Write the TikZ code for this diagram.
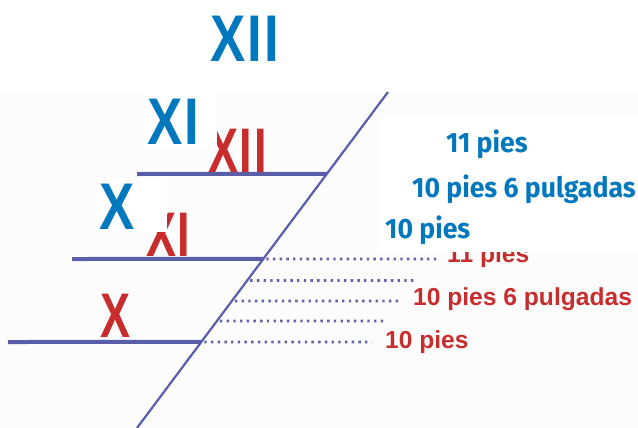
\documentclass[tikz,border=0pt]{standalone}
\usepackage{fontspec}
\setmainfont{Liberation Sans}
\newfontfamily\firafont{Fira Sans}
\usetikzlibrary{calc}
\definecolor{bluetxt}{RGB}{0,120,190}
\definecolor{redtxt}{RGB}{200,45,45}
\definecolor{linec}{RGB}{90,94,168}
\definecolor{dotc}{RGB}{95,100,170}
\definecolor{bgc}{RGB}{252,252,252}
\begin{document}
\begin{tikzpicture}[x=1pt,y=-1pt,
  bluenum/.style={inner sep=0pt, anchor=base west, text=bluetxt, font=\fontsize{66}{66}\selectfont\bfseries},
  rednum/.style={inner sep=0pt, anchor=base west, text=redtxt, font=\fontsize{63}{63}\selectfont\bfseries},
  bluelbl/.style={inner sep=0pt, anchor=base west, text=bluetxt, font=\firafont\fontsize{28}{28}\selectfont\bfseries},
  redlbl/.style={inner sep=0pt, anchor=base west, text=redtxt, font=\fontsize{24.6}{25}\selectfont\bfseries},
  hline/.style={draw=linec, line width=4pt},
  diag/.style={draw=linec, line width=2.2pt},
  dotline/.style={draw=dotc, line width=2.6pt, dash pattern=on 2.4pt off 4.3pt},
  whitebox/.style={fill=white, draw=none}]
\useasboundingbox (0,0) rectangle (638,428);
\fill[bgc] (0,92) rectangle (638,428);
% diagonal
\coordinate (dtop) at (388,92);
\coordinate (dbot) at (137,428);
\draw[diag] (dtop) -- (dbot);
% intersections
\coordinate (p1) at ($(dtop)!0.244!(dbot)$);
\coordinate (p2) at ($(dtop)!0.497!(dbot)$);
\coordinate (q1) at ($(dtop)!0.561!(dbot)+(3,0)$);
\coordinate (q2) at ($(dtop)!0.622!(dbot)+(3,0)$);
\coordinate (q3) at ($(dtop)!0.6815!(dbot)+(3,0)$);
\coordinate (p3) at ($(dtop)!0.744!(dbot)$);
% horizontal lines
\coordinate (h1) at (137,174);
\coordinate (h2) at (72,259);
\coordinate (h3) at (8,342);
\draw[hline] (h1) -- (p1);
\draw[hline] (h2) -- (p2);
\draw[hline] (h3) -- (p3);
% dotted lines
\coordinate (e1) at (437,259);
\coordinate (e2) at (415,280.5);
\coordinate (e3) at (400,301);
\coordinate (e4) at (383,321);
\coordinate (e5) at (372,342);
\draw[dotline] ($(p2)+(3,0)$) -- (e1);
\draw[dotline] (q1) -- (e2);
\draw[dotline] (q2) -- (e3);
\draw[dotline] (q3) -- (e4);
\draw[dotline] ($(p3)+(3,0)$) -- (e5);
% red numerals
\node[rednum] (rXII) at (208,172) {\scalebox{0.714}[1]{X\kern2.5pt I\kern2.5pt I}};
\node[rednum] (rXI) at (146,256) {\scalebox{0.714}[1]{X\kern2.5pt I}};
\node[rednum] (rX) at (100,337) {\scalebox{0.714}[1]{X}};
% red labels
\node[redlbl] (r11) at (447,262) {11 pies};
\node[redlbl] (r106) at (413,305) {10 pies 6 pulgadas};
\node[redlbl] (r10) at (385,348) {10 pies};
% white patches
\fill[whitebox] (143,92) rectangle (217,147);
\fill[whitebox] (95,178) rectangle (167,232);
\fill[whitebox] (378,118) rectangle (638,252);
% blue numerals
\node[bluenum] (bXII) at (210,62) {\scalebox{0.8}[1]{X\kern3pt I\kern3pt I}};
\node[bluenum] (bXI) at (147,145) {\scalebox{0.8}[1]{X\kern3pt I}};
\node[bluenum] (bX) at (99,229) {\scalebox{0.8}[1]{X}};
% blue labels
\node[bluelbl] (b11) at (446,153) {\scalebox{0.95}[1]{11 pies}};
\node[bluelbl] (b106) at (412,197) {\scalebox{0.95}[1]{10 pies 6 pulgadas}};
\node[bluelbl] (b10) at (385,238) {\scalebox{0.95}[1]{10 pies}};
\end{tikzpicture}
\end{document}
